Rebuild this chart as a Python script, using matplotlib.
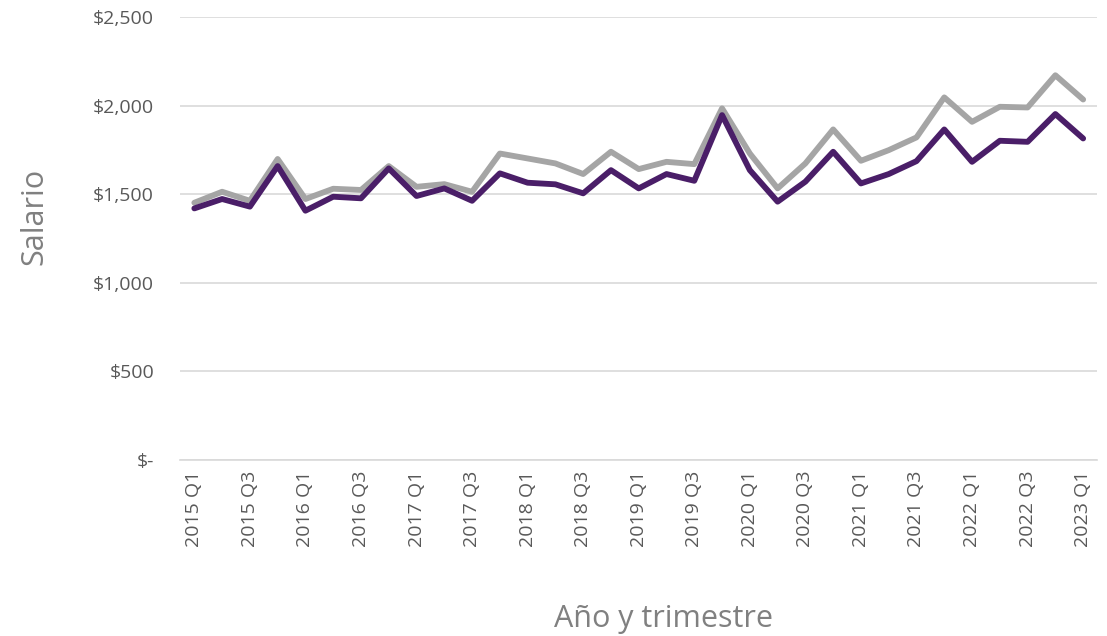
import matplotlib.pyplot as plt
from matplotlib.ticker import FuncFormatter

# Trimestres 2015 Q1 .. 2023 Q1
trimestres = [f"{a} Q{q}" for a in range(2015, 2024) for q in range(1, 5)][:33]

# Salario (serie gris, superior)
salario_gris = [1452, 1514, 1463, 1699, 1473, 1531, 1524, 1659, 1542, 1557,
                1514, 1730, 1702, 1674, 1614, 1740, 1642, 1683, 1670, 1985,
                1730, 1533, 1674, 1866, 1689, 1749, 1821, 2047, 1909, 1994,
                1990, 2172, 2035]

# Salario (serie morada, inferior)
salario_morado = [1420, 1473, 1430, 1659, 1407, 1486, 1477, 1646, 1490, 1533,
                  1463, 1618, 1565, 1556, 1505, 1636, 1533, 1614, 1576, 1947,
                  1636, 1458, 1571, 1740, 1561, 1614, 1687, 1866, 1683, 1802,
                  1796, 1953, 1815]

plt.rcParams['font.family'] = ['Open Sans', 'DejaVu Sans']

fig = plt.figure(figsize=(11.07, 6.36), dpi=100)
ax = fig.add_axes([0.163, 0.277, 0.828, 0.696])

x = list(range(len(trimestres)))
ax.plot(x, salario_gris, color='#A5A5A5', linewidth=4.2, solid_joinstyle='round', solid_capstyle='round')
ax.plot(x, salario_morado, color='#4A1E68', linewidth=4.2, solid_joinstyle='round', solid_capstyle='round')

ax.set_xlim(-0.5, len(trimestres) - 0.5)
ax.set_ylim(0, 2500)
ax.set_yticks([0, 500, 1000, 1500, 2000, 2500])
ax.yaxis.set_major_formatter(FuncFormatter(lambda v, p: '$-' if v == 0 else f'${v:,.0f}'))

ax.set_xticks(x[::2])
ax.set_xticklabels(trimestres[::2], rotation=90)

ax.grid(axis='y', color='#D9D9D9', linewidth=1.2)
ax.set_axisbelow(True)
for s in ['top', 'right', 'left']:
    ax.spines[s].set_visible(False)
ax.spines['bottom'].set_color('#D9D9D9')
ax.spines['bottom'].set_linewidth(1.2)
ax.tick_params(axis='both', length=0, labelsize=14, labelcolor='#595959')
ax.tick_params(axis='y', pad=19)
ax.tick_params(axis='x', pad=8)

# títulos de ejes (posición como en el original)
fig.text(0.031, 0.659, 'Salario', rotation=90, fontsize=22, color='#808080',
         ha='center', va='center')
fig.text(0.599, 0.027, 'Año y trimestre', fontsize=22, color='#808080',
         ha='center', va='center')

fig.savefig('out.png', dpi=100)
